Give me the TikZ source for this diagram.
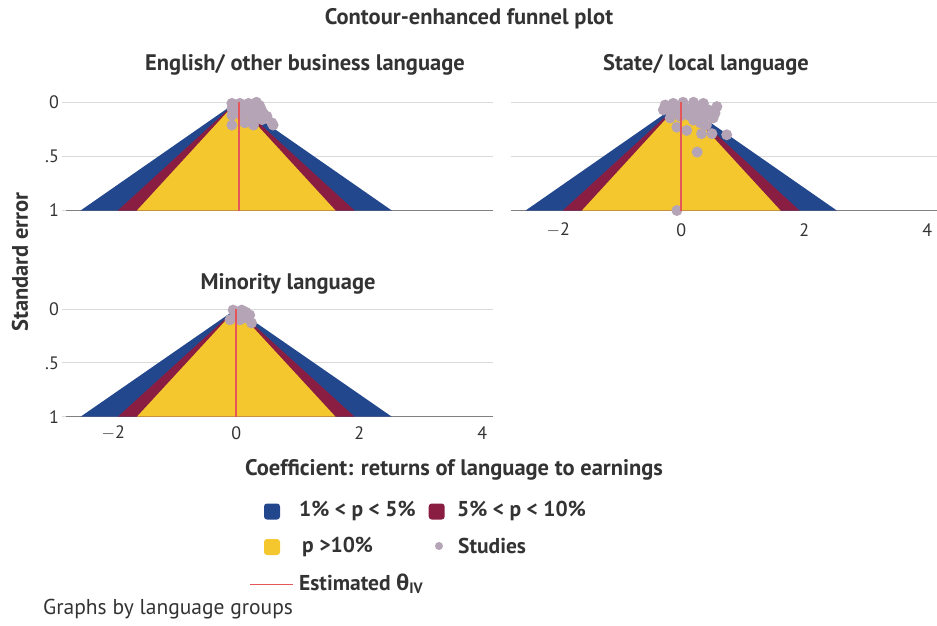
\documentclass[tikz,border=0pt]{standalone}
\usepackage{fontspec}
\setmainfont{PT Sans}
\newfontfamily\greekfont{Open Sans}
\usetikzlibrary{positioning}

\definecolor{seblue}{HTML}{23478D}
\definecolor{semaroon}{HTML}{8A1D42}
\definecolor{seyellow}{HTML}{F4C72F}
\definecolor{studygray}{HTML}{B4A4B6}
\definecolor{thetared}{HTML}{E5565A}
\definecolor{gridgray}{HTML}{DADADA}
\definecolor{axisgray}{HTML}{808080}
\definecolor{txtgray}{HTML}{333333}

\tikzset{
  heading/.style={font=\fontsize{22.5}{26}\selectfont\bfseries, text=txtgray, inner sep=0pt},
  ticklabel/.style={font=\fontsize{18}{21}\selectfont, text=txtgray, inner sep=0pt},
  legendtext/.style={font=\fontsize{21.5}{25}\selectfont\bfseries, text=txtgray, inner sep=0pt, anchor=west},
  gridline/.style={gridgray, line width=1pt},
  axisline/.style={axisgray, line width=1.2pt},
  study/.style={fill=studygray},
  thetaline/.style={thetared, line width=1.8pt},
  keybox/.style={rounded corners=3pt, minimum size=16pt, inner sep=0pt},
}

\begin{document}
\begin{tikzpicture}[x=1pt, y=-1pt]
  \useasboundingbox (0,0) rectangle (937,625);

  % Titles
  \node[heading] (maintitle) at (469,19) {Contour-enhanced funnel plot};
  \node[heading] (titleeng) at (305,65) {English/ other business language};
  \node[heading] (titlestate) at (706,65) {State/ local language};
  \node[heading] (titlemin) at (288,284) {Minority language};
  \node[heading, rotate=90] (ylabel) at (20,262) {Standard error};

  % Panel 1: English/ other business language
  \begin{scope}[shift={(236.2,102.3)}, x=61.5pt, y=-108.2pt]
    \foreach \se in {0,0.5} \draw[gridline] (-2.77,\se) -- (4.17,\se);
    \draw[axisline] (-2.77,1) -- (4.17,1);
    \foreach \se/\lab in {0/0,0.5/.5,1/1} {
      \draw[gridgray, line width=1pt] (-2.84,\se) -- (-2.77,\se);
      \node[ticklabel, anchor=east] (ya\lab) at (-2.88,\se) {\lab};
    }
    \fill[seblue] (0,0) -- (-2.53,1) -- (2.53,1) -- cycle;
    \fill[semaroon] (0,0) -- (-1.925,1) -- (1.925,1) -- cycle;
    \fill[seyellow] (0,0) -- (-1.615,1) -- (1.615,1) -- cycle;
    \foreach \x/\se in {-0.07/0.01,0.06/0.01,0.20/0.01,0.33/0.0,0.41/0.07,0.50/0.13,
      0.60/0.21,-0.07/0.21,0.14/0.19,0.27/0.16,-0.07/0.12,0.0/0.07,0.22/0.09,
      0.35/0.12,0.25/0.04,0.42/0.16,0.58/0.19,0.28/0.21,-0.07/0.06,0.12/0.05,
      0.08/0.12,0.15/0.10,0.30/0.06,0.38/0.03,0.45/0.11}
      \fill[study] (\x,\se) circle[radius=5.5pt];
    \draw[thetaline] (0.04,0) -- (0.04,1);
  \end{scope}

  % Panel 2: State/ local language
  \begin{scope}[shift={(681.2,102.3)}, x=61.5pt, y=-108.2pt]
    \foreach \se in {0,0.5} \draw[gridline] (-2.77,\se) -- (4.17,\se);
    \draw[axisline] (-2.77,1) -- (4.17,1);
    \fill[seblue] (0,0) -- (-2.53,1) -- (2.53,1) -- cycle;
    \fill[semaroon] (0,0) -- (-1.925,1) -- (1.925,1) -- cycle;
    \fill[seyellow] (0,0) -- (-1.615,1) -- (1.615,1) -- cycle;
    \foreach \x/\se in {-0.29/0.07,-0.26/0.025,-0.13/0.01,0.03/0.0,0.20/0.0,0.36/0.01,
      0.58/0.04,0.55/0.10,0.52/0.145,0.14/0.07,-0.02/0.13,-0.18/0.145,0.20/0.165,
      -0.07/0.23,0.09/0.26,0.31/0.19,0.41/0.21,0.33/0.29,0.50/0.29,0.74/0.30,
      0.26/0.46,-0.07/1.0,0.27/0.09,0.44/0.07,-0.08/0.06,0.06/0.05,0.12/0.12,
      0.02/0.09,0.24/0.03,0.34/0.06,0.40/0.12,0.30/0.13,-0.15/0.08,0.18/0.10}
      \fill[study] (\x,\se) circle[radius=5.5pt];
    \draw[thetaline] (0,0) -- (0,1);
    \foreach \v/\lab in {-2/$-$2,0/0,2/2,4/4}
      \node[ticklabel] (xb\v) at (\v,1.18) {\lab};
  \end{scope}

  % Panel 3: Minority language
  \begin{scope}[shift={(236.2,309)}, x=61.5pt, y=-107.7pt]
    \foreach \se in {0,0.5} \draw[gridline] (-2.77,\se) -- (4.17,\se);
    \draw[axisline] (-2.77,1) -- (4.17,1);
    \foreach \se/\lab in {0/0,0.5/.5,1/1} {
      \draw[gridgray, line width=1pt] (-2.84,\se) -- (-2.77,\se);
      \node[ticklabel, anchor=east] (yc\lab) at (-2.88,\se) {\lab};
    }
    \fill[seblue] (0,0) -- (-2.53,1) -- (2.53,1) -- cycle;
    \fill[semaroon] (0,0) -- (-1.925,1) -- (1.925,1) -- cycle;
    \fill[seyellow] (0,0) -- (-1.615,1) -- (1.615,1) -- cycle;
    \foreach \x/\se in {-0.05/0.01,0.09/0.01,0.22/0.056,0.25/0.13,-0.10/0.10,
      0.01/0.08,0.14/0.08,-0.02/0.03,0.16/0.03,0.06/0.10}
      \fill[study] (\x,\se) circle[radius=5.5pt];
    \draw[thetaline] (0,0) -- (0,1);
    \foreach \v/\lab in {-2/$-$2,0/0,2/2,4/4}
      \node[ticklabel] (xc\v) at (\v,1.15) {\lab};
  \end{scope}

  % Legend
  \node[heading] (xlabel) at (454,470) {Coefficient: returns of language to earnings};
  \node[keybox, fill=seblue] (keyblue) at (272,511.5) {};
  \node[legendtext] (txtblue) at (299,511) {1\% < p < 5\%};
  \node[keybox, fill=semaroon] (keymaroon) at (436.7,511.5) {};
  \node[legendtext] (txtmaroon) at (457,511) {5\% < p < 10\%};
  \node[keybox, fill=seyellow] (keyyellow) at (272,547) {};
  \node[legendtext] (txtyellow) at (302,547) {p >10\%};
  \node[circle, study, minimum size=8pt, inner sep=0pt] (keystudy) at (439,546) {};
  \node[legendtext] (txtstudy) at (458,546) {Studies};
  \coordinate (keyline) at (250,584);
  \node[legendtext] (txttheta) at (299,584) {Estimated {\greekfont θ}\textsubscript{IV}};
  \draw[thetared, line width=1pt, shorten >=6pt] (keyline) -- (txttheta.west);

  \node[font=\fontsize{21.5}{25}\selectfont, text=txtgray, inner sep=0pt, anchor=west]
    (note) at (43,609) {Graphs by language groups};
\end{tikzpicture}
\end{document}
